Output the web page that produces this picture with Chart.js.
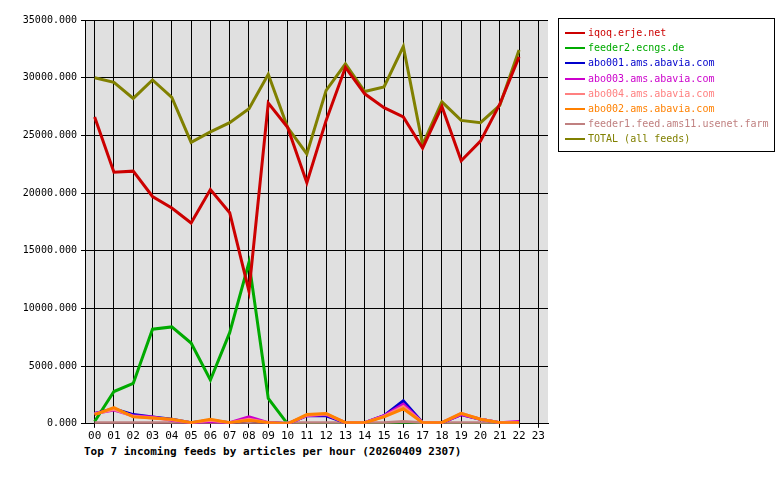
<!DOCTYPE html>
<html>
<head>
<meta charset="utf-8">
<script src="https://cdn.jsdelivr.net/npm/chart.js@4"></script>
<style>
body{margin:0;background:#fff;font-family:"DejaVu Sans Mono",monospace;}
#wrap{position:relative;width:780px;height:480px;}
#c{position:absolute;left:0;top:0;}
#legend{position:absolute;left:558px;top:18px;width:217px;height:134px;border:1px solid #000;font-size:10px;padding:6px 0 0 0;box-sizing:border-box;}
#legend div{height:15.2px;line-height:15.2px;white-space:nowrap;}
#legend span.sw{display:inline-block;width:20px;height:2px;vertical-align:middle;margin:0 3px 0 6px;}
#title{position:absolute;left:84px;top:445px;font-size:11px;font-weight:bold;}
</style>
</head>
<body>
<div id="wrap">
<canvas id="c" width="560" height="445"></canvas>
<div id="legend"></div>
<div id="title">Top 7 incoming feeds by articles per hour (20260409 2307)</div>
</div>
<script>
// hours and feed data
const hours = ["00","01","02","03","04","05","06","07","08","09","10","11","12","13","14","15","16","17","18","19","20","21","22","23"];
const iqoq    = [26600,21800,21900,19700,18700,17400,20300,18300,11500,27800,25700,20900,26300,30900,28600,27400,26600,23900,27500,22800,24500,27700,31800,null];
const feeder2 = [200,2800,3500,8200,8400,7000,3800,7900,14000,2200,0,0,0,0,0,0,0,0,0,0,0,0,0,null];
const abo001  = [900,1300,800,600,400,100,300,100,300,100,0,700,700,100,100,700,2000,100,100,800,400,100,100,null];
const abo003  = [900,1200,700,600,300,100,200,100,600,100,0,700,800,100,100,700,1700,100,100,800,400,100,200,null];
const abo004  = [850,1250,650,500,350,100,300,100,400,100,0,750,850,100,100,650,1500,100,100,900,400,100,100,null];
const abo002  = [800,1400,600,500,400,100,400,100,300,100,0,800,900,100,100,600,1300,100,100,900,400,100,100,null];
const feeder1 = [100,100,100,100,100,100,100,100,100,100,100,100,100,100,100,100,200,100,100,100,100,100,100,null];
const total   = [30000,29600,28200,29800,28300,24400,25300,26100,27300,30300,25700,23400,28900,31200,28800,29200,32700,24200,27900,26300,26100,27600,32400,null];
const yTicks  = [0,5000,10000,15000,20000,25000,30000,35000];

const series = [
  ["iqoq.erje.net", iqoq, "#cc0000"],
  ["feeder2.ecngs.de", feeder2, "#00aa00"],
  ["abo001.ams.abavia.com", abo001, "#0000cc"],
  ["abo003.ams.abavia.com", abo003, "#cc00cc"],
  ["abo004.ams.abavia.com", abo004, "#ff8080"],
  ["abo002.ams.abavia.com", abo002, "#ff8000"],
  ["feeder1.feed.ams11.usenet.farm", feeder1, "#c08080"],
  ["TOTAL (all feeds)", total, "#808000"]
];

// legend
const leg = document.getElementById('legend');
series.forEach(s => {
  const d = document.createElement('div');
  d.style.color = s[2];
  d.innerHTML = '<span class="sw" style="background:' + s[2] + '"></span>' + s[0];
  leg.appendChild(d);
});

// grey plot background
const bgPlugin = {
  id: 'bg',
  beforeDraw(chart) {
    const a = chart.chartArea, ctx = chart.ctx;
    ctx.save();
    ctx.fillStyle = '#e0e0e0';
    ctx.fillRect(a.left, a.top, a.right - a.left, a.bottom - a.top);
    ctx.restore();
  }
};

// small feeds drawn over the big ones, orange on top of them
const drawOrder = [6, 7, 3, 2, 1, 0, 5, 8];
const datasets = series.map((s, i) => ({
  label: s[0],
  data: s[1],
  borderColor: s[2],
  backgroundColor: s[2],
  borderWidth: 3,
  pointRadius: 0,
  tension: 0,
  order: drawOrder[i]
}));

Chart.defaults.font.family = '"DejaVu Sans Mono", monospace';
Chart.defaults.font.size = 10;
Chart.defaults.color = '#000';

new Chart(document.getElementById('c'), {
  type: 'line',
  data: { labels: hours, datasets: datasets },
  options: {
    responsive: false,
    animation: false,
    layout: { padding: { top: 20, right: 12, left: 0, bottom: 0 } },
    plugins: { legend: { display: false }, tooltip: { enabled: false } },
    scales: {
      x: {
        offset: true,
        grid: { color: '#000', offset: false, lineWidth: 1, tickLength: 4 },
        border: { color: '#000' },
        ticks: { padding: 2, maxRotation: 0, autoSkip: false, font: { size: 11 } }
      },
      y: {
        min: 0, max: 35000,
        afterFit: ax => { ax.width = 85; },
        afterBuildTicks: ax => { ax.ticks = yTicks.map(v => ({ value: v })); },
        grid: { color: '#000', lineWidth: 1, tickLength: 4 },
        border: { color: '#000' },
        ticks: { callback: v => v.toFixed(3), padding: 4 }
      }
    }
  },
  plugins: [bgPlugin]
});
</script>
</body>
</html>
